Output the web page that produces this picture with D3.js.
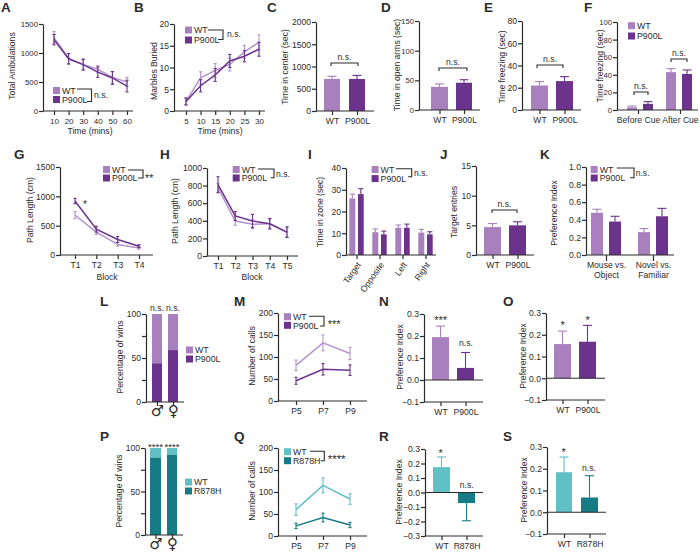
<!DOCTYPE html>
<html>
<head>
<meta charset="utf-8">
<script src="https://cdnjs.cloudflare.com/ajax/libs/d3/7.8.5/d3.min.js"></script>
<style>
body { margin: 0; background: #fff; }
svg { display: block; }
text { font-family: "Liberation Sans", Arial, sans-serif; fill: #2b2b2b; }
</style>
</head>
<body>
<svg width="700" height="553"></svg>
<script>
// values
const ambTime = [10, 20, 30, 40, 50, 60];
const ambWT = [1270, 905, 800, 720, 580, 500];
const ambWTErr = [100, 90, 100, 60, 100, 80];
const ambMut = [1230, 900, 800, 670, 570, 430];
const ambMutErr = [90, 90, 90, 90, 110, 100];

const marbleTime = [5, 10, 15, 20, 25, 30];
const marbleWT = [2.2, 7.6, 9.3, 10.7, 13.6, 15.8];
const marbleWTErr = [0.8, 1.4, 1.6, 1.5, 1.5, 1.7];
const marbleMut = [2.2, 5.8, 8.3, 11.5, 12.6, 14.2];
const marbleMutErr = [0.8, 1.4, 1.5, 1.5, 1.3, 1.6];

const genoMut = ["WT", "P900L"];
const genoTeal = ["WT", "R878H"];

const centerVals = [720, 720], centerErr = [60, 80];
const armsVals = [39, 46], armsErr = [5, 5];
const freezeVals = [22, 26], freezeErr = [3.5, 4];

const cueCats = ["Before Cue", "After Cue"];
const cueWT = [3, 43], cueWTErr = [1.5, 4];
const cueMut = [7, 41], cueMutErr = [2.5, 4.5];

const blocks4 = ["T1", "T2", "T3", "T4"];
const pathGWT = [680, 390, 180, 120], pathGWTErr = [60, 40, 30, 20];
const pathGMut = [920, 440, 265, 150], pathGMutErr = [45, 50, 50, 25];

const blocks5 = ["T1", "T2", "T3", "T4", "T5"];
const pathHWT = [775, 398, 360, 367, 265], pathHWTErr = [50, 50, 50, 50, 55];
const pathHMut = [810, 455, 398, 367, 272], pathHMutErr = [90, 50, 75, 60, 60];

const zones = ["Target", "Opposite", "Left", "Right"];
const zoneWT = [26, 10.5, 12.5, 10.3], zoneWTErr = [2, 1.5, 1.3, 1.5];
const zoneMut = [28, 9.5, 12.5, 9.5], zoneMutErr = [2.5, 1.5, 1.7, 1.2];

const entriesVals = [4.7, 5], entriesErr = [0.6, 0.6];

const prefCats = [["Mouse vs.", "Object"], ["Novel vs.", "Familiar"]];
const prefWT = [0.48, 0.26], prefWTErr = [0.04, 0.04];
const prefMut = [0.38, 0.44], prefMutErr = [0.06, 0.09];

const sexes = ["\u2642", "\u2640"];
const winsMut = [44, 59];
const winsTeal = [89, 92];

const ages = ["P5", "P7", "P9"];
const callsWT = [81, 132, 108], callsWTErr = [12, 18, 14];
const callsMut = [46, 72, 70], callsMutErr = [8, 13, 12];
const callsTealWT = [60, 115, 84], callsTealWTErr = [13, 17, 12];
const callsTealMut = [23, 42, 25], callsTealMutErr = [6, 10, 6];

const nVals = [0.195, 0.055], nErr = [0.05, 0.07];
const oVals = [0.157, 0.168], oErr = [0.06, 0.075];
const rVals = [0.175, -0.073], rErr = [0.07, 0.122];
const sVals = [0.184, 0.068], sErr = [0.07, 0.1];

// colours
const lilac = "#a880bd", purple = "#6c338c", lilacLine = "#b596cf";
const teal = "#61bfc6", tealDark = "#167b84";
const ink = "#2b2b2b";

const svg = d3.select("svg");

function label(x, y, s) {
	svg.append("text").attr("x", x).attr("y", y)
		.attr("font-size", 13.5).attr("font-weight", "bold").text(s);
}

function yTitle(x, y, s) {
	svg.append("text")
		.attr("transform", "translate(" + x + "," + y + ") rotate(-90)")
		.attr("text-anchor", "middle").attr("font-size", 8.6).text(s);
}

function xTitle(x, y, s) {
	svg.append("text").attr("x", x).attr("y", y)
		.attr("text-anchor", "middle").attr("font-size", 8.6).text(s);
}

function note(x, y, s, size) {
	svg.append("text").attr("x", x).attr("y", y)
		.attr("text-anchor", "middle").attr("font-size", size || 8.6).text(s);
}

function styleAxis(g) {
	g.selectAll("path,line").attr("stroke", ink).attr("stroke-width", 1.2);
	g.selectAll("text").attr("font-size", 8.6);
}

function yAxis(x0, yTop, yBot, domain, ticks, fmt, size) {
	var y = d3.scaleLinear().domain(domain).range([yBot, yTop]);
	var axis = d3.axisLeft(y).tickValues(ticks).tickSize(4).tickSizeOuter(0).tickPadding(1)
		.tickFormat(fmt || d3.format("d"));
	var g = svg.append("g").attr("transform", "translate(" + x0 + ",0)").call(axis).call(styleAxis);
	if (size) g.selectAll("text").attr("font-size", size);
	return y;
}

function xAxisAt(scale, yPos, x0, x1, ticks) {
	var axis = d3.axisBottom(scale).tickSize(4).tickPadding(3);
	if (ticks) axis.tickValues(ticks);
	var g = svg.append("g").attr("transform", "translate(0," + yPos + ")").call(axis);
	g.select(".domain").remove();
	g.append("line").attr("x1", x0).attr("x2", x1);
	g.call(styleAxis);
	return g;
}

function lineSeries(x, y, xs, vals, errs, color) {
	var rows = xs.map(function(d, i) { return {x: d, v: vals[i], e: errs[i]}; });
	var line = d3.line().x(function(d) { return x(d.x); }).y(function(d) { return y(d.v); });
	svg.append("path").datum(rows).attr("fill", "none").attr("stroke", color)
		.attr("stroke-width", 1.5).attr("d", line);
	var g = svg.append("g").attr("stroke", color).attr("stroke-width", 1.1);
	rows.forEach(function(d) {
		var cx = x(d.x);
		g.append("line").attr("x1", cx).attr("x2", cx).attr("y1", y(d.v - d.e)).attr("y2", y(d.v + d.e));
		g.append("line").attr("x1", cx - 1.6).attr("x2", cx + 1.6).attr("y1", y(d.v - d.e)).attr("y2", y(d.v - d.e));
		g.append("line").attr("x1", cx - 1.6).attr("x2", cx + 1.6).attr("y1", y(d.v + d.e)).attr("y2", y(d.v + d.e));
	});
}

function bar(x0, x1, y, v, e, color) {
	var tip = v >= 0 ? v + e : v - e;
	var mid = (x0 + x1) / 2;
	var cap = Math.min(4.5, (x1 - x0) * 0.45);
	svg.append("line").attr("x1", mid).attr("x2", mid).attr("y1", y(v)).attr("y2", y(tip))
		.attr("stroke", color).attr("stroke-width", 1.1);
	svg.append("line").attr("x1", mid - cap).attr("x2", mid + cap).attr("y1", y(tip)).attr("y2", y(tip))
		.attr("stroke", color).attr("stroke-width", 1.1);
	svg.append("rect").attr("x", x0).attr("width", x1 - x0)
		.attr("y", Math.min(y(v), y(0))).attr("height", Math.abs(y(v) - y(0)))
		.attr("fill", color);
}

function legend(x, y1, y2, c1, c2, s1, s2) {
	[[y1, c1, s1], [y2, c2, s2]].forEach(function(d) {
		svg.append("rect").attr("x", x).attr("y", d[0] - 3.5).attr("width", 7).attr("height", 7).attr("fill", d[1]);
		svg.append("text").attr("x", x + 9).attr("y", d[0] + 3.2).attr("font-size", 8.8).text(d[2]);
	});
}

function keyBracket(x0, xEnd, x1, y1, y2, s, tx, ty, size) {
	svg.append("path").attr("fill", "none").attr("stroke", ink).attr("stroke-width", 1.1)
		.attr("d", "M" + x0 + "," + y1 + "H" + xEnd + "V" + y2 + "H" + x1);
	svg.append("text").attr("x", tx).attr("y", ty).attr("font-size", size || 8.6).text(s);
}

function topBracket(x0, x1, yPos, s) {
	svg.append("path").attr("fill", "none").attr("stroke", ink).attr("stroke-width", 1.1)
		.attr("d", "M" + x0 + "," + (yPos + 3) + "V" + yPos + "H" + x1 + "V" + (yPos + 3));
	note((x0 + x1) / 2, yPos - 3, s, 8.6);
}

// two bar panel with a genotype axis
function twoBars(ax, xEnd, yTop, yBot, domain, ticks, fmt, vals, errs, cats, bars, cols, size) {
	var y = yAxis(ax, yTop, yBot, domain, ticks, fmt, size);
	var x = d3.scaleOrdinal().domain(cats).range(bars.map(function(b) { return (b[0] + b[1]) / 2; }));
	vals.forEach(function(v, i) { bar(bars[i][0], bars[i][1], y, v, errs[i], cols[i]); });
	xAxisAt(x, yBot, ax, xEnd);
	if (domain[0] < 0) {
		svg.append("line").attr("x1", ax).attr("x2", xEnd).attr("y1", y(0)).attr("y2", y(0))
			.attr("stroke", ink).attr("stroke-width", 1.2);
	}
	return y;
}

// stacked win panels
function stacked(ax, xEnd, yTop, yBot, vals, bars, cLight, cDark, sig, sigY, sigSize) {
	var y = d3.scaleLinear().domain([0, 100]).range([yBot, yTop]);
	var axis = d3.axisLeft(y).tickValues([0, 25, 50, 75, 100]).tickSize(4).tickSizeOuter(0).tickPadding(1)
		.tickFormat(function(d) { return d % 50 === 0 ? d : ""; });
	svg.append("g").attr("transform", "translate(" + ax + ",0)").call(axis).call(styleAxis);
	vals.forEach(function(v, i) {
		var stack = d3.stack().keys(["mut", "wt"])([{mut: v, wt: 100 - v}]);
		svg.append("rect").attr("x", bars[i][0]).attr("width", bars[i][1] - bars[i][0])
			.attr("y", y(stack[1][0][1])).attr("height", y(stack[1][0][0]) - y(stack[1][0][1])).attr("fill", cLight);
		svg.append("rect").attr("x", bars[i][0]).attr("width", bars[i][1] - bars[i][0])
			.attr("y", y(stack[0][0][1])).attr("height", y(stack[0][0][0]) - y(stack[0][0][1])).attr("fill", cDark);
		note((bars[i][0] + bars[i][1]) / 2, sigY, sig, sigSize);
	});
	var x = d3.scaleOrdinal().domain(sexes).range(bars.map(function(b) { return (b[0] + b[1]) / 2; }));
	var g = xAxisAt(x, yBot, ax, xEnd);
	g.selectAll(".tick text").style("font-family", "'DejaVu Sans'").attr("font-size", 15)
		.attr("y", 14).attr("dy", 0);
}

// A
label(1, 12.4, "A");
var yA = yAxis(43, 24, 111, [0, 1500], [0, 500, 1000, 1500], null, 7.8);
var xA = d3.scaleLinear().domain([10, 60]).range([54, 127]);
xAxisAt(xA, 111, 43, 133, ambTime).selectAll("text").attr("font-size", 8);
lineSeries(xA, yA, ambTime, ambWT, ambWTErr, lilacLine);
lineSeries(xA, yA, ambTime, ambMut, ambMutErr, purple);
yTitle(15, 66, "Total Ambulations");
xTitle(90, 134, "Time (mins)");
legend(53, 90.5, 99.5, lilac, purple, "WT", "P900L");
keyBracket(77, 91.5, 87, 89, 101.5, "n.s.", 94, 98);

// B
label(134, 12.4, "B");
var yB = yAxis(174, 24, 111, [0, 20], [0, 5, 10, 15, 20]);
var xB = d3.scaleLinear().domain([5, 30]).range([186, 259]);
xAxisAt(xB, 111, 174, 265, marbleTime).selectAll("text").attr("font-size", 8);
lineSeries(xB, yB, marbleTime, marbleWT, marbleWTErr, lilacLine);
lineSeries(xB, yB, marbleTime, marbleMut, marbleMutErr, purple);
yTitle(157, 71, "Marbles Buried");
xTitle(220, 134, "Time (mins)");
legend(185, 30, 40, lilac, purple, "WT", "P900L");
keyBracket(208, 223, 218, 30, 39.5, "n.s.", 227, 37);

// C
label(267, 12.4, "C");
twoBars(316, 374, 22, 111, [0, 2000], [0, 500, 1000, 1500, 2000], null, centerVals, centerErr, genoMut, [[324, 340], [349, 365]], [lilac, purple]);
yTitle(288, 67, "Time in center (sec)");
topBracket(331, 358, 63, "n.s.");

// D
label(381, 12.4, "D");
twoBars(419, 480, 21, 110, [0, 150], [0, 50, 100, 150], null, armsVals, armsErr, genoMut, [[431, 448], [456, 472]], [lilac, purple], 7.6);
yTitle(400, 65, "Time in open arms (sec)");
topBracket(439, 467, 68, "n.s.");

// E
label(484, 12.4, "E");
twoBars(522, 581, 21, 110, [0, 80], [0, 20, 40, 60, 80], null, freezeVals, freezeErr, genoMut, [[531, 548], [556, 573]], [lilac, purple]);
yTitle(505, 67, "Time freezing (sec)");
topBracket(537, 563, 65, "n.s.");

// F
label(584, 12.4, "F");
var yF = yAxis(617, 22, 110, [0, 100], [0, 20, 40, 60, 80, 100], null, 7.6);
bar(627, 637, yF, cueWT[0], cueWTErr[0], lilac);
bar(643, 653, yF, cueMut[0], cueMutErr[0], purple);
bar(666, 676, yF, cueWT[1], cueWTErr[1], lilac);
bar(682, 692, yF, cueMut[1], cueMutErr[1], purple);
var xF = d3.scaleOrdinal().domain(cueCats).range([638, 680]);
xAxisAt(xF, 110, 617, 698);
yTitle(603, 66, "Time freezing (sec)");
legend(628, 25.7, 36, lilac, purple, "WT", "P900L");
topBracket(634, 648, 92, "n.s.");
topBracket(671, 687, 59, "n.s.");

// G
label(14, 159, "G");
var yG = yAxis(60, 167, 255, [0, 1500], [0, 500, 1000, 1500]);
var xG = d3.scalePoint().domain(blocks4).range([75, 139]);
xAxisAt(xG, 255, 60, 153);
lineSeries(xG, yG, blocks4, pathGWT, pathGWTErr, lilacLine);
lineSeries(xG, yG, blocks4, pathGMut, pathGMutErr, purple);
yTitle(33, 210, "Path Length (cm)");
xTitle(107, 280, "Block");
legend(103, 169.5, 178, lilac, purple, "WT", "P900L");
keyBracket(128, 143, 138, 170, 178, "**", 145, 181.7, 10.7);
note(85, 208, "*", 10);

// H
label(160, 159, "H");
var yH = yAxis(207, 168, 256, [0, 1000], [0, 200, 400, 600, 800, 1000]);
var xH = d3.scalePoint().domain(blocks5).range([218, 287]);
xAxisAt(xH, 256, 207, 298);
lineSeries(xH, yH, blocks5, pathHWT, pathHWTErr, lilacLine);
lineSeries(xH, yH, blocks5, pathHMut, pathHMutErr, purple);
yTitle(178, 211, "Path Length (cm)");
xTitle(252, 280, "Block");
legend(232.7, 169.5, 178, lilac, purple, "WT", "P900L");
keyBracket(258, 274, 270.7, 169, 177.7, "n.s.", 276, 176.7);

// I
label(308, 159, "I");
var yI = yAxis(346, 168, 255, [0, 40], [0, 10, 20, 30, 40]);
var iStart = [349.3, 372.3, 395.3, 418.3];
zones.forEach(function(z, i) {
	bar(iStart[i], iStart[i] + 6, yI, zoneWT[i], zoneWTErr[i], lilac);
	bar(iStart[i] + 8.7, iStart[i] + 14.4, yI, zoneMut[i], zoneMutErr[i], purple);
});
var xI = d3.scaleOrdinal().domain(zones).range(iStart.map(function(s) { return s + 7.2; }));
var gI = xAxisAt(xI, 255, 346, 436);
gI.selectAll(".tick text")
	.attr("y", 0).attr("dy", "0.35em").attr("text-anchor", "end")
	.attr("transform", "translate(2,8) rotate(-55)");
yTitle(323, 212, "Time in zone (sec)");
legend(371.6, 169.5, 178.6, lilac, purple, "WT", "P900L");
keyBracket(396, 411.7, 408, 168.7, 176.7, "n.s.", 414, 175.7);

// J
label(440, 159, "J");
twoBars(476, 534, 166, 255, [0, 15], [0, 5, 10, 15], null, entriesVals, entriesErr, genoMut, [[484, 501], [509, 526]], [lilac, purple]);
yTitle(457, 212, "Target entries");
topBracket(492, 517, 210, "n.s.");

// K
label(540, 159, "K");
var yK = yAxis(586, 167, 255, [0, 1], [0, 0.2, 0.4, 0.6, 0.8, 1], d3.format(".1f"));
bar(591, 603, yK, prefWT[0], prefWTErr[0], lilac);
bar(609, 621, yK, prefMut[0], prefMutErr[0], purple);
bar(638, 650, yK, prefWT[1], prefWTErr[1], lilac);
bar(656, 668, yK, prefMut[1], prefMutErr[1], purple);
var xK = d3.scaleOrdinal().domain(prefCats.map(function(d) { return d.join(" "); })).range([606, 653]);
var gK = xAxisAt(xK, 255, 586, 674);
gK.selectAll(".tick line").attr("y2", 6);
gK.selectAll(".tick text").each(function(d, i) {
	var t = d3.select(this).text(null);
	prefCats[i].forEach(function(s, j) {
		t.append("tspan").attr("x", 0).attr("dy", j ? "1.1em" : "0.71em").text(s);
	});
});
yTitle(557, 213, "Preference Index");
legend(590.7, 169.5, 178, lilac, purple, "WT", "P900L");
keyBracket(616.7, 634, 630, 168, 177.7, "n.s.", 635.7, 176);

// L
label(100, 306, "L");
stacked(146, 184, 314, 402, winsMut, [[152, 162], [168, 178]], lilac, purple, "n.s.", 311, 8.6);
yTitle(123, 357, "Percentage of wins");
legend(186, 350, 359, lilac, purple, "WT", "P900L");

// M
label(234, 306, "M");
var yM = yAxis(278, 313, 401, [0, 200], [0, 50, 100, 150, 200]);
var xM = d3.scalePoint().domain(ages).range([296, 350]);
xAxisAt(xM, 401, 278, 367);
lineSeries(xM, yM, ages, callsWT, callsWTErr, lilacLine);
lineSeries(xM, yM, ages, callsMut, callsMutErr, purple);
yTitle(255, 356, "Number of calls");
legend(284, 316.7, 325.3, lilac, purple, "WT", "P900L");
keyBracket(309, 324, 320, 316.3, 326, "***", 327.7, 328, 11);

// N
label(379, 306, "N");
twoBars(424, 483, 314, 402, [-0.1, 0.3], [-0.1, 0, 0.1, 0.2, 0.3], d3.format(".1f"), nVals, nErr, genoMut, [[432, 449], [457, 474]], [lilac, purple]);
yTitle(403, 357, "Preference Index");
note(440.7, 324, "***", 11);
note(466, 346, "n.s.");

// O
label(503, 306, "O");
twoBars(546, 605, 313, 400, [-0.1, 0.3], [-0.1, 0, 0.1, 0.2, 0.3], d3.format(".1f"), oVals, oErr, genoMut, [[554, 571], [579, 596]], [lilac, purple]);
yTitle(526, 356, "Preference Index");
note(562.7, 329, "*", 11);
note(587.7, 323.7, "*", 11);

// P
label(100, 441, "P");
stacked(145, 183, 448, 535, winsTeal, [[150, 161], [167, 177]], teal, tealDark, "****", 450.4, 9.5);
yTitle(122, 491, "Percentage of wins");
legend(185, 482, 491, teal, tealDark, "WT", "R878H");

// Q
label(234, 441, "Q");
var yQ = yAxis(278, 448, 536, [0, 200], [0, 50, 100, 150, 200]);
var xQ = d3.scalePoint().domain(ages).range([296, 350]);
xAxisAt(xQ, 536, 278, 367);
lineSeries(xQ, yQ, ages, callsTealWT, callsTealWTErr, teal);
lineSeries(xQ, yQ, ages, callsTealMut, callsTealMutErr, tealDark);
yTitle(255, 491, "Number of calls");
legend(284, 451.7, 460.7, teal, tealDark, "WT", "R878H");
keyBracket(310, 324.3, 320.7, 451.3, 460.7, "****", 327.7, 463, 11.5);

// R
label(379, 441, "R");
twoBars(425, 483, 449, 536, [-0.3, 0.3], [-0.3, -0.2, -0.1, 0, 0.1, 0.2, 0.3], d3.format(".1f"), rVals, rErr, genoTeal, [[433, 450], [458, 475]], [teal, tealDark]);
yTitle(402, 492, "Preference Index");
note(440.7, 456.7, "*", 11);
note(466.7, 488, "n.s.");

// S
label(503, 441, "S");
twoBars(547, 606, 447, 534, [-0.1, 0.3], [-0.1, 0, 0.1, 0.2, 0.3], d3.format(".1f"), sVals, sErr, genoTeal, [[556, 572], [581, 598]], [teal, tealDark]);
yTitle(527, 490, "Preference Index");
note(563.7, 456, "*", 11);
note(589, 470.6, "n.s.");
</script>
</body>
</html>
